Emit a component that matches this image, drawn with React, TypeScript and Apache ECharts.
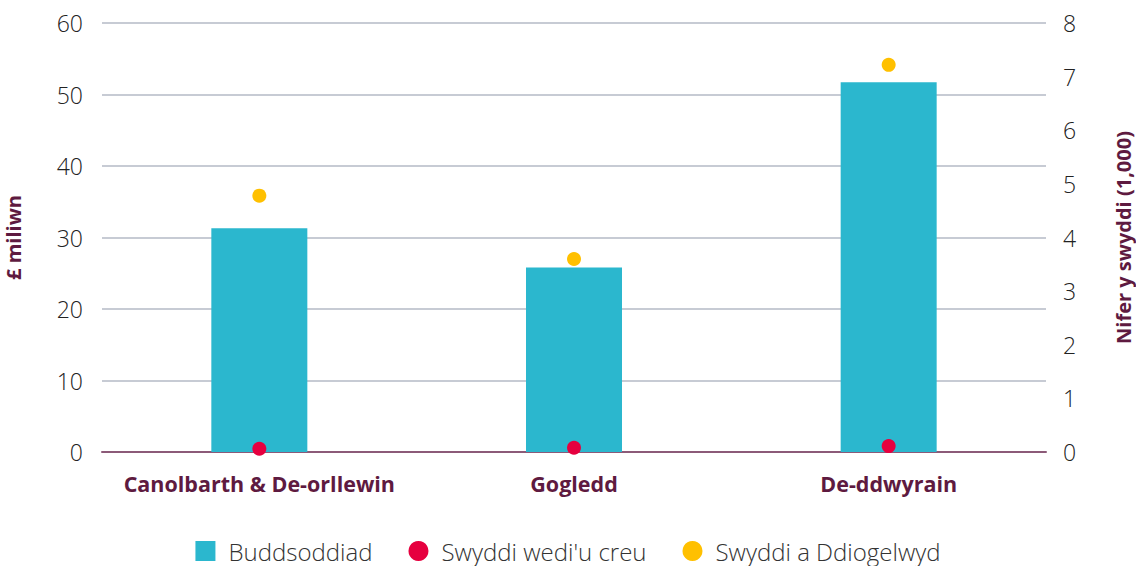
import React, { useEffect, useRef } from "react";
import * as echarts from "echarts";

const categories = ["Canolbarth & De-orllewin", "Gogledd", "De-ddwyrain"];
const investment = [31.3, 25.8, 51.7];
const jobsCreated = [0.06, 0.08, 0.11];
const jobsSafeguarded = [4.78, 3.6, 7.22];

const FONT = "'Open Sans', 'Noto Sans', sans-serif";
const MAROON = "#5e1a40";

export default function App() {
  const ref = useRef<HTMLDivElement>(null);
  useEffect(() => {
    if (!ref.current) return;
    const chart = echarts.init(ref.current, undefined, { renderer: "svg" });
    chart.setOption({
      animation: false,
      textStyle: { fontFamily: FONT },
      grid: { left: 102, right: 90, top: 23, bottom: 114, outerBoundsMode: "none", containLabel: false },
      legend: {
        top: 534,
        left: "center",
        itemGap: 36,
        itemWidth: 20,
        itemHeight: 20,
        textStyle: {
          fontSize: 24,
          fontWeight: 300,
          color: "#333",
          fontFamily: FONT,
          padding: [0, 0, 0, 8],
        },
        data: [
          { name: "Buddsoddiad", icon: "rect" },
          { name: "Swyddi wedi'u creu", icon: "circle" },
          { name: "Swyddi a Ddiogelwyd", icon: "circle" },
        ],
      },
      xAxis: {
        type: "category",
        data: categories,
        axisLine: { lineStyle: { color: "#8c5a78", width: 2 } },
        axisTick: { show: false },
        axisLabel: {
          interval: 0,
          color: MAROON,
          fontWeight: "bold",
          fontSize: 21.5,
          margin: 20,
          fontFamily: FONT,
        },
      },
      yAxis: [
        {
          type: "value",
          min: 0,
          max: 60,
          interval: 10,
          name: "£ miliwn",
          nameLocation: "middle",
          nameGap: 79,
          nameRotate: 90,
          nameTextStyle: { color: MAROON, fontWeight: "bold", fontSize: 20, fontFamily: FONT },
          axisLabel: { color: "#222", fontSize: 23, fontWeight: 300, margin: 19, fontFamily: FONT },
          axisLine: { show: false },
          axisTick: { show: false },
          splitLine: { lineStyle: { color: "#b4bac6", width: 1.5 } },
        },
        {
          type: "value",
          min: 0,
          max: 8,
          interval: 1,
          name: "Nifer y swyddi (1,000)",
          nameLocation: "middle",
          nameGap: 67,
          nameRotate: 90,
          nameTextStyle: { color: MAROON, fontWeight: "bold", fontSize: 20, fontFamily: FONT },
          axisLabel: { color: "#222", fontSize: 23, fontWeight: 300, margin: 17, fontFamily: FONT },
          axisLine: { show: false },
          axisTick: { show: false },
          splitLine: { show: false },
        },
      ],
      series: [
        {
          name: "Buddsoddiad",
          type: "bar",
          data: investment,
          barWidth: 96,
          itemStyle: { color: "#2bb7ce" },
          yAxisIndex: 0,
        },
        {
          name: "Swyddi wedi'u creu",
          type: "scatter",
          data: jobsCreated,
          yAxisIndex: 1,
          symbolSize: 14,
          itemStyle: { color: "#e6003f", opacity: 1 },
          z: 5,
        },
        {
          name: "Swyddi a Ddiogelwyd",
          type: "scatter",
          data: jobsSafeguarded,
          yAxisIndex: 1,
          symbolSize: 14,
          itemStyle: { color: "#ffc000", opacity: 1 },
          z: 5,
        },
      ],
    });
    return () => chart.dispose();
  }, []);
  return (
    <div
      ref={ref}
      style={{ position: "absolute", left: 0, top: 0, width: 1136, height: 566 }}
    />
  );
}
